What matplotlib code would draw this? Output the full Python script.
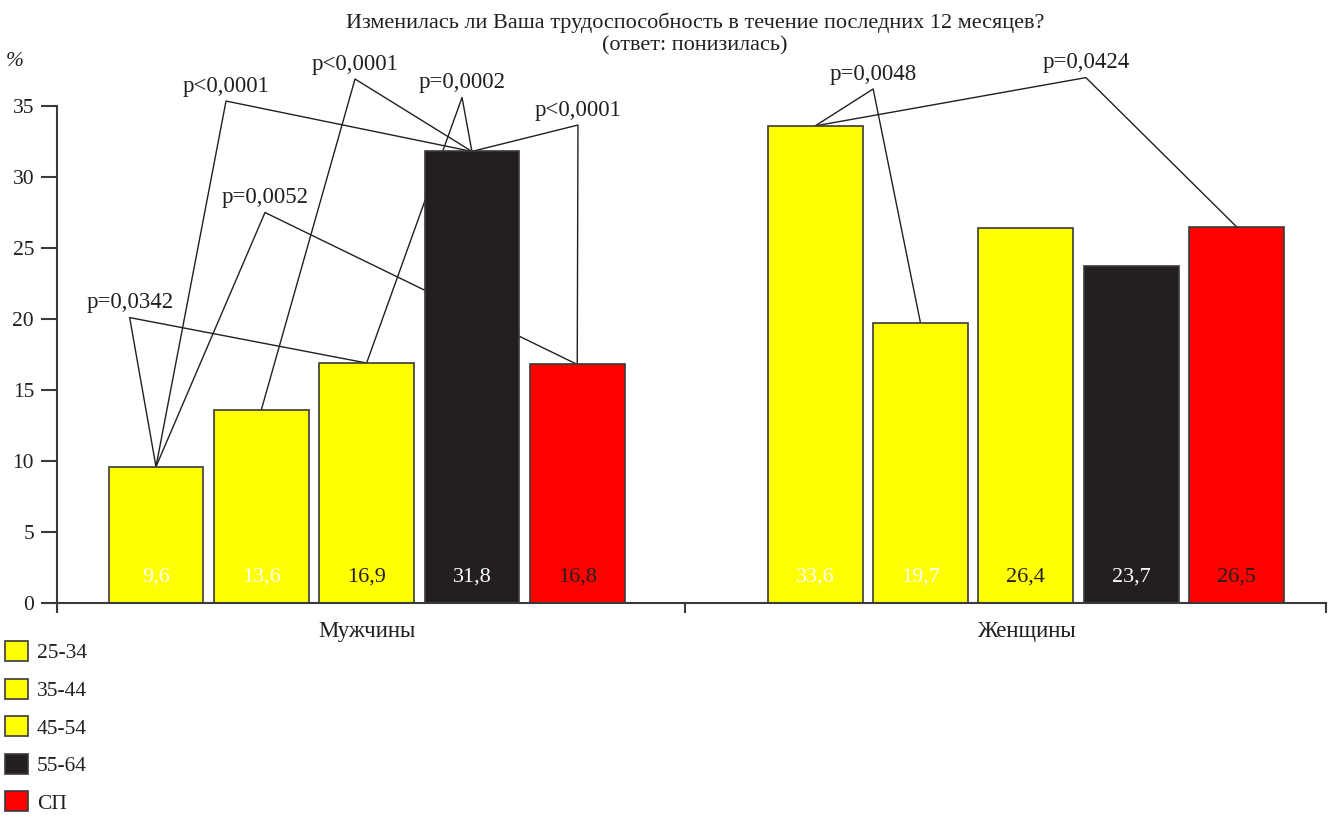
import matplotlib.pyplot as plt
from matplotlib.patches import Patch

plt.rcParams['font.family'] = ['Liberation Serif', 'DejaVu Serif']
plt.rcParams['font.size'] = 15.5

groups = ['Мужчины', 'Женщины']
ages = ['25-34', '35-44', '45-54', '55-64', 'СП']
men = [9.6, 13.6, 16.9, 31.8, 16.8]
women = [33.6, 19.7, 26.4, 23.7, 26.5]

colors = ['#ffff00', '#ffff00', '#ffff00', '#231f20', '#ff0000']
value_colors = ['white', 'white', '#231f20', 'white', '#231f20']

# pairwise comparisons: (group, bar a, bar b, p-value text)
pairs = [
    (0, 0, 2, 'p=0,0342'),
    (0, 0, 3, 'p<0,0001'),
    (0, 0, 4, 'p=0,0052'),
    (0, 1, 3, 'p<0,0001'),
    (0, 2, 3, 'p=0,0002'),
    (0, 3, 4, 'p<0,0001'),
    (1, 0, 1, 'p=0,0048'),
    (1, 0, 4, 'p=0,0424'),
]
# where each bracket peaks (x in bar units, y in %)
peaks = [(-0.25, 20.1), (0.665, 35.35), (1.035, 27.5), (1.89, 36.9),
         (2.906, 35.6), (4.007, 33.66), (6.81, 36.2), (8.83, 37.0)]

group_start = [0, 6.26]
width = 0.9
edge = '#3a3a3a'
ink = '#231f20'

fig = plt.figure(figsize=(13.33, 8.19), dpi=100)
ax = fig.add_axes([57 / 1333, 1 - 603 / 819, (1326 - 57) / 1333, (603 - 106) / 819])

data = [men, women]
for g, vals in enumerate(data):
    xs = [group_start[g] + i for i in range(len(vals))]
    ax.bar(xs, vals, width=width, color=colors, edgecolor=edge, linewidth=1.2, zorder=2)
    for x, v, c in zip(xs, vals, value_colors):
        ax.text(x, 1.85, f'{v:.1f}'.replace('.', ','), color=c, ha='center', va='center',
                fontsize=16, zorder=3)

for (g, a, b, label), (px, py) in zip(pairs, peaks):
    vals = data[g]
    xa, xb = group_start[g] + a, group_start[g] + b
    ax.plot([xa, px, xb], [vals[a], py, vals[b]], color=ink, lw=1.0,
            zorder=1, clip_on=False)
    ax.annotate(label, (px, py), xytext=(0, 3), textcoords='offset points',
                ha='center', va='bottom', color=ink, fontsize=16.5, annotation_clip=False)

ax.set_xlim(-0.94, 11.11)
ax.set_ylim(0, 35)
ax.set_yticks(range(0, 36, 5))
ax.set_xticks([group_start[0] + 2, group_start[1] + 2])
ax.set_xticklabels(groups, fontsize=16.5)
ax.set_xticks([-0.94, 5.024, 11.11], minor=True)
ax.tick_params(axis='x', which='major', length=0, pad=13, colors=ink)
ax.tick_params(axis='x', which='minor', length=7.5, width=1.5, color=edge, direction='out')
ax.tick_params(axis='y', length=11.5, width=1.5, color=edge, pad=5, labelcolor=ink)

for s in ['top', 'right']:
    ax.spines[s].set_visible(False)
for s in ['left', 'bottom']:
    ax.spines[s].set_color(edge)
    ax.spines[s].set_linewidth(1.5)

fig.text(695 / 1333, 1 - 23 / 819, 'Изменилась ли Ваша трудоспособность в течение последних 12 месяцев?',
         ha='center', va='center', color=ink, fontsize=16)
fig.text(695 / 1333, 1 - 46 / 819, '(ответ: понизилась)', ha='center', va='center',
         color=ink, fontsize=16)
fig.text(15 / 1333, 1 - 62 / 819, '%', ha='center', va='center', style='italic', color=ink)

handles = [Patch(facecolor=c, edgecolor=edge, linewidth=1.2) for c in colors]
fig.legend(handles, ages, loc='upper left', bbox_to_anchor=(5 / 1333, 1 - 641 / 819),
           frameon=False, borderpad=0, borderaxespad=0, handlelength=1.07, handleheight=1.07,
           handletextpad=0.42, labelspacing=0.7, labelcolor=ink)

fig.savefig('out.png', dpi=100)
